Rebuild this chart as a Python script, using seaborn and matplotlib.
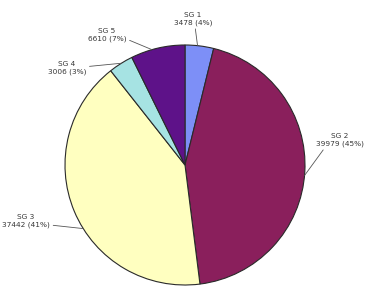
import numpy as np
import matplotlib
matplotlib.use("Agg")
import matplotlib.pyplot as plt
import seaborn as sns

# data
groups = ["SG 1", "SG 2", "SG 3", "SG 4", "SG 5"]
counts = [3478, 39979, 37442, 3006, 6610]
pct_labels = [4, 45, 41, 3, 7]
colors = ["#7d8ff7", "#8a1f5c", "#ffffc0", "#a6e3e3", "#5e1289"]

# label centres (px, from top-left) and where the leader leaves the text
label_pos = [(193, 19), (340, 140), (26, 221), (67, 68), (107, 35)]
rel_pos = [(0.55, 0.0), (0.2, 0.0), (1.0, 0.2), (1.0, 0.6), (1.0, 0.2)]
# angle (deg) on the rim where each leader meets the pie
leader_ang = [84, -5, -148, 122, 106]

W, H = 365, 286
sns.set_theme(style="white")
plt.rcParams["font.family"] = ["DejaVu Sans"]

fig = plt.figure(figsize=(W / 100, H / 100), dpi=100)
fig.patch.set_facecolor("white")
R = 120
cx, cy = 185, 165
ax = fig.add_axes([(cx - R) / W, (H - cy - R) / H, 2 * R / W, 2 * R / H])

wedges, _ = ax.pie(counts, colors=colors, startangle=90, counterclock=False,
                   radius=1.0,
                   wedgeprops=dict(edgecolor="#2a2a2a", linewidth=0.8))
ax.set_xlim(-1, 1)
ax.set_ylim(-1, 1)
ax.set_aspect("equal")
ax.axis("off")

for g, c, p, (lx, ly), rp, a in zip(groups, counts, pct_labels, label_pos, rel_pos, leader_ang):
    t = np.deg2rad(a)
    ax.annotate(f"{g}\n{c} ({p}%)", xy=(np.cos(t), np.sin(t)),
                xytext=(lx / W, 1 - ly / H), textcoords="figure fraction",
                ha="center", va="center", fontsize=5.3, color="#363636",
                linespacing=1.15,
                arrowprops=dict(arrowstyle="-", color="#555555", lw=0.6,
                                shrinkA=0, shrinkB=0, relpos=rp),
                annotation_clip=False)

fig.savefig("out.png", dpi=100, facecolor="white")
